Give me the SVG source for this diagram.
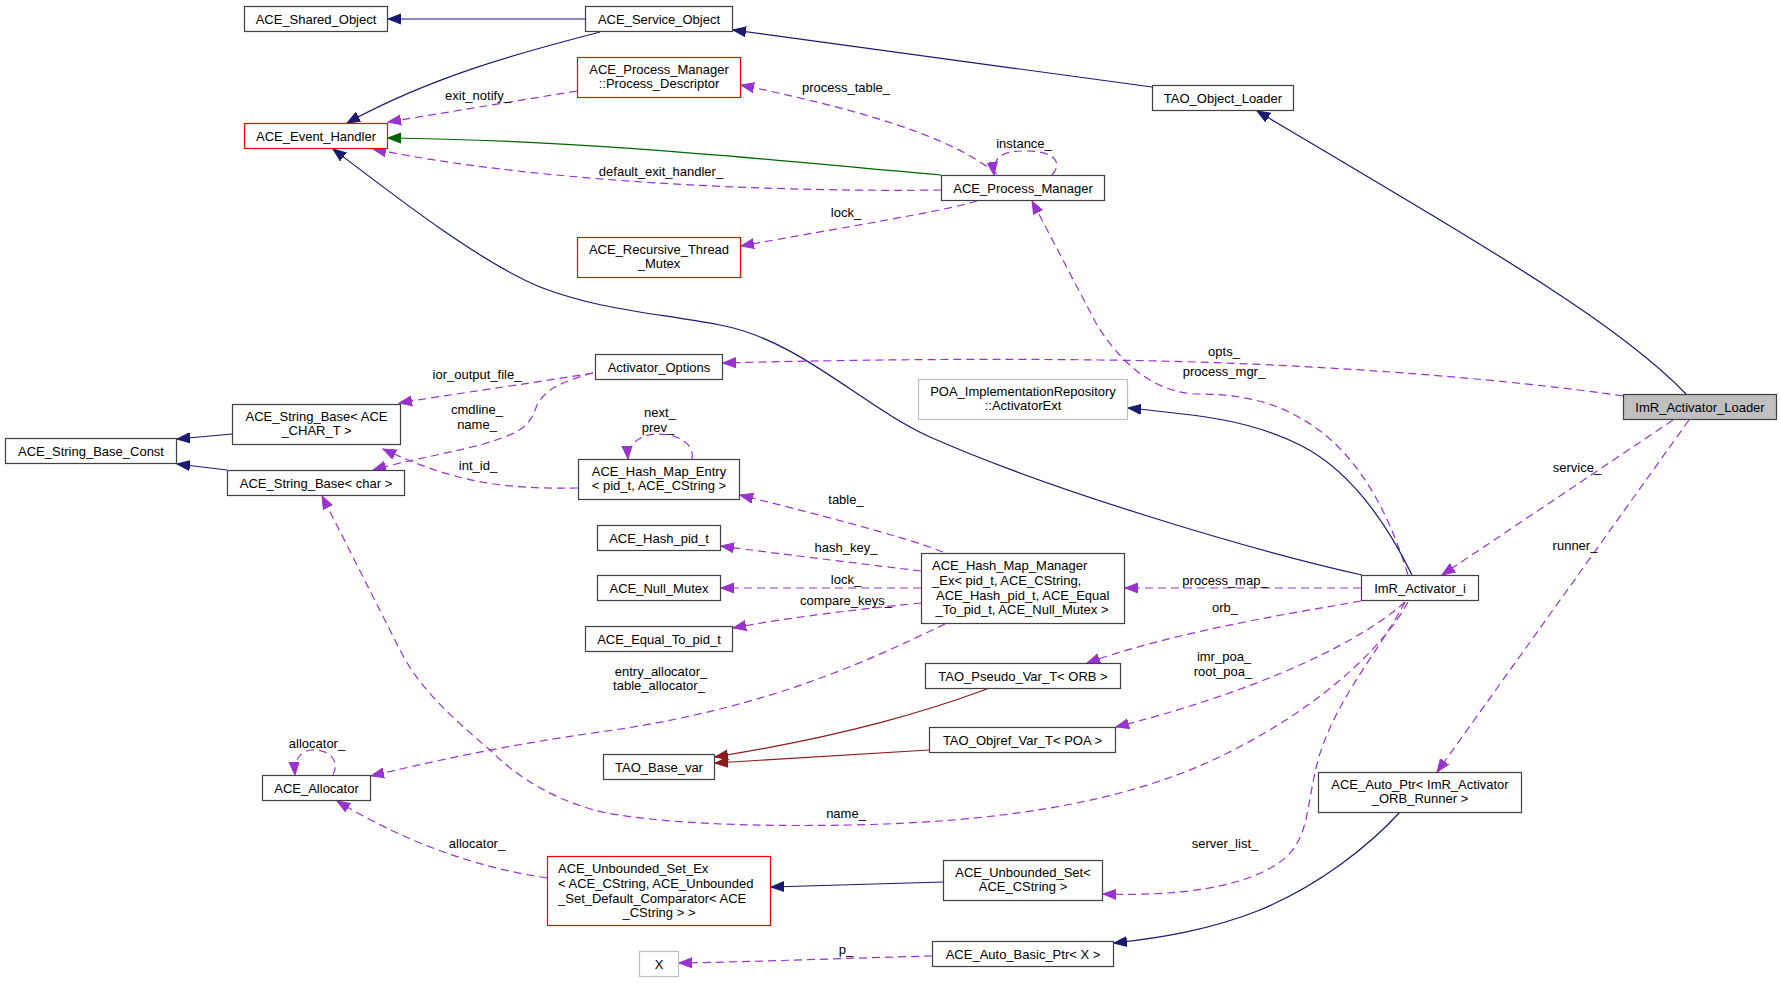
<svg xmlns="http://www.w3.org/2000/svg" width="1781" height="983" viewBox="0 0 1781 983">
<style>
text{font-family:"Liberation Sans",Arial,sans-serif;font-size:13px;fill:#000}
.n rect{fill:#fff;stroke:#404040;stroke-width:1.2}
.n.r rect{stroke:#ff0000}
.n.g rect{stroke:#bfbfbf}
.n.f rect{fill:#bfbfbf}
.c{text-anchor:middle}
.e path{fill:none;stroke-width:1.2}
.nv{stroke:#191970;marker-end:url(#an)}
.pu{stroke:#9a32cd;stroke-dasharray:8,5;marker-end:url(#ap)}
.gr{stroke:#006400;marker-end:url(#ag)}
.rd{stroke:#8b1a1a;marker-end:url(#ar)}
.lb{text-anchor:middle}
</style>
<defs>
<marker id="an" markerUnits="userSpaceOnUse" markerWidth="14" markerHeight="12" viewBox="0 0 14 12" refX="13" refY="6" orient="auto"><path d="M0,1 L13,6 L0,11 z" fill="#191970" stroke="#191970"/></marker>
<marker id="ap" markerUnits="userSpaceOnUse" markerWidth="14" markerHeight="12" viewBox="0 0 14 12" refX="13" refY="6" orient="auto"><path d="M0,1 L13,6 L0,11 z" fill="#9a32cd" stroke="#9a32cd"/></marker>
<marker id="ag" markerUnits="userSpaceOnUse" markerWidth="14" markerHeight="12" viewBox="0 0 14 12" refX="13" refY="6" orient="auto"><path d="M0,1 L13,6 L0,11 z" fill="#006400" stroke="#006400"/></marker>
<marker id="ar" markerUnits="userSpaceOnUse" markerWidth="14" markerHeight="12" viewBox="0 0 14 12" refX="13" refY="6" orient="auto"><path d="M0,1 L13,6 L0,11 z" fill="#8b1a1a" stroke="#8b1a1a"/></marker>
</defs>
<rect width="1781" height="983" fill="#fff"/>
<g id="edges" class="e">
<path class="nv" d="M585,19 L388,19"/>
<path class="nv" d="M600,32 C540,48 440,72 347,123"/>
<path class="nv" d="M1152,87 L733,30"/>
<path class="nv" d="M1686,394 C1620,325 1500,255 1257,111"/>
<path class="nv" d="M232,434 L177,439"/>
<path class="nv" d="M227,470 L177,464"/>
<path class="gr" d="M941,175 C820,165 600,140 388,138"/>
<path class="nv" d="M1362,575 C1250,550 1050,490 930,437 C860,405 800,340 720,325 C650,312 600,310 540,287 C480,262 400,200 333,149"/>
<path class="pu" d="M577,91 L388,122"/>
<path class="pu" d="M941,190 C800,192 550,185 373,149"/>
<path class="pu" d="M997,174 C960,145 900,118 741,85"/>
<path class="pu" d="M1052,175 C1065,160 1050,150 1022,151 C1000,151 992,160 994,175"/>
<path class="pu" d="M977,201 C950,210 840,228 741,246"/>
<path class="pu" d="M1408,575 C1385,500 1350,445 1300,418 C1270,400 1235,394 1197,394 C1160,393 1125,370 1097,325 L1032,201"/>
<path class="pu" d="M1623,396 C1500,378 1300,362 1100,360 C950,358 800,361 723,363"/>
<path class="pu" d="M593,373 C540,382 480,390 399,403"/>
<path class="pu" d="M593,373 C560,382 545,390 537,405 C530,425 525,432 480,445 C440,455 400,462 373,470"/>
<path class="pu" d="M578,488 C510,489 460,485 383,449"/>
<path class="pu" d="M692,459 C695,445 680,434 657,434 C640,434 627,445 628,459"/>
<path class="pu" d="M943,552 C900,535 800,510 740,495"/>
<path class="pu" d="M921,571 C880,566 780,554 721,546"/>
<path class="pu" d="M921,588 L721,588"/>
<path class="pu" d="M921,603 C870,608 790,617 733,628"/>
<path class="pu" d="M945,624 C860,665 760,710 600,732 C500,746 430,762 371,776"/>
<path class="nv" d="M1412,575 C1385,520 1350,470 1300,445 C1250,420 1200,415 1128,408"/>
<path class="pu" d="M1361,588 L1125,588"/>
<path class="pu" d="M1361,601 C1300,612 1180,630 1087,663"/>
<path class="pu" d="M1405,602 C1380,625 1300,680 1116,727"/>
<path class="pu" d="M1408,602 C1385,645 1320,710 1213,760 C1120,803 1000,822 850,825 C750,827 660,823 607,813 C560,803 520,780 490,750 C455,720 420,690 400,650 L322,496"/>
<path class="pu" d="M1405,602 C1380,650 1335,700 1318,760 C1305,810 1310,840 1280,862 C1240,890 1170,896 1103,894"/>
<path class="pu" d="M1673,420 L1442,575"/>
<path class="pu" d="M1689,420 L1437,772"/>
<path class="nv" d="M943,882 L771,887"/>
<path class="nv" d="M1400,812 C1370,845 1320,885 1260,910 C1210,930 1160,938 1114,943"/>
<path class="pu" d="M932,956 C850,958 750,962 679,963"/>
<path class="pu" d="M547,878 C480,868 410,845 337,801"/>
<path class="pu" d="M333,775 C340,760 330,750 313,750 C300,750 294,760 295,775"/>
<path class="rd" d="M987,689 C930,710 850,735 715,757"/>
<path class="rd" d="M929,750 C850,755 780,759 715,763"/>
</g>
<g id="labels">
<text class="lb" x="478" y="99.5">exit_notify_</text>
<text class="lb" x="846" y="91.5">process_table_</text>
<text class="lb" x="1024" y="147.5">instance_</text>
<text class="lb" x="661" y="175.5">default_exit_handler_</text>
<text class="lb" x="846" y="216.5">lock_</text>
<text class="lb" x="1224" y="355.5">opts_</text>
<text class="lb" x="1224" y="375.5">process_mgr_</text>
<text class="lb" x="477" y="378.5">ior_output_file_</text>
<text class="lb" x="477" y="413.5">cmdline_</text>
<text class="lb" x="477" y="428.5">name_</text>
<text class="lb" x="478" y="469.5">int_id_</text>
<text class="lb" x="660" y="416.5">next_</text>
<text class="lb" x="658" y="431.5">prev_</text>
<text class="lb" x="846" y="503.5">table_</text>
<text class="lb" x="846" y="551.5">hash_key_</text>
<text class="lb" x="846" y="583.5">lock_</text>
<text class="lb" x="846" y="604.5">compare_keys_</text>
<text class="lb" x="1225" y="584.5">process_map_</text>
<text class="lb" x="1225" y="611.5">orb_</text>
<text class="lb" x="1224" y="660.5">imr_poa_</text>
<text class="lb" x="1223" y="675.5">root_poa_</text>
<text class="lb" x="1577" y="471.5">service_</text>
<text class="lb" x="1575" y="549.5">runner_</text>
<text class="lb" x="661" y="675.5">entry_allocator_</text>
<text class="lb" x="659" y="689.5">table_allocator_</text>
<text class="lb" x="317" y="747.5">allocator_</text>
<text class="lb" x="846" y="817.5">name_</text>
<text class="lb" x="477" y="847.5">allocator_</text>
<text class="lb" x="1225" y="847.5">server_list_</text>
<text class="lb" x="846" y="953.5">p_</text>
</g>
<g id="n_shared" class="n"><rect x="244.5" y="6.5" width="143" height="25"/><text class="c" x="316" y="23.5">ACE_Shared_Object</text></g>
<g id="n_service" class="n"><rect x="585.5" y="6.5" width="147" height="25"/><text class="c" x="659" y="23.5">ACE_Service_Object</text></g>
<g id="n_taoloader" class="n"><rect x="1152.5" y="85.5" width="141" height="25"/><text class="c" x="1223" y="102.5">TAO_Object_Loader</text></g>
<g id="n_evh" class="n r"><rect x="244.5" y="123.5" width="143" height="25"/><text class="c" x="316" y="140.5">ACE_Event_Handler</text></g>
<g id="n_pd" class="n r"><rect x="577.5" y="57.5" width="163" height="40"/><text class="c" x="659" y="73.5">ACE_Process_Manager</text><text class="c" x="659" y="88">::Process_Descriptor</text></g>
<g id="n_pm" class="n"><rect x="941.5" y="175.5" width="163" height="25"/><text class="c" x="1023" y="192.5">ACE_Process_Manager</text></g>
<g id="n_rtm" class="n r"><rect x="577.5" y="237.5" width="163" height="40"/><text class="c" x="659" y="253.5">ACE_Recursive_Thread</text><text class="c" x="659" y="268">_Mutex</text></g>
<g id="n_ao" class="n"><rect x="595.5" y="354.5" width="127" height="25"/><text class="c" x="659" y="371.5">Activator_Options</text></g>
<g id="n_poa" class="n g"><rect x="918.5" y="379.5" width="209" height="40"/><text class="c" x="1023" y="395.5">POA_ImplementationRepository</text><text class="c" x="1023" y="410">::ActivatorExt</text></g>
<g id="n_loader" class="n f"><rect x="1623.5" y="394.5" width="153" height="25"/><text class="c" x="1700" y="411.5">ImR_Activator_Loader</text></g>
<g id="n_sbc" class="n"><rect x="5.5" y="438.5" width="171" height="25"/><text class="c" x="91" y="455.5">ACE_String_Base_Const</text></g>
<g id="n_sbt" class="n"><rect x="232.5" y="404.5" width="168" height="40"/><text class="c" x="316.5" y="420.5">ACE_String_Base&lt; ACE</text><text class="c" x="316.5" y="435">_CHAR_T &gt;</text></g>
<g id="n_sbchar" class="n"><rect x="227.5" y="470.5" width="177" height="25"/><text class="c" x="316" y="487.5">ACE_String_Base&lt; char &gt;</text></g>
<g id="n_hme" class="n"><rect x="578.5" y="459.5" width="161" height="40"/><text class="c" x="659" y="475.5">ACE_Hash_Map_Entry</text><text class="c" x="659" y="490">&lt; pid_t, ACE_CString &gt;</text></g>
<g id="n_hashpid" class="n"><rect x="597.5" y="525.5" width="123" height="25"/><text class="c" x="659" y="542.5">ACE_Hash_pid_t</text></g>
<g id="n_nullmutex" class="n"><rect x="597.5" y="575.5" width="123" height="25"/><text class="c" x="659" y="592.5">ACE_Null_Mutex</text></g>
<g id="n_equalto" class="n"><rect x="585.5" y="626.5" width="147" height="25"/><text class="c" x="659" y="643.5">ACE_Equal_To_pid_t</text></g>
<g id="n_hmm" class="n"><rect x="921.5" y="553.5" width="203" height="70"/><text x="932" y="569.5">ACE_Hash_Map_Manager</text><text x="932" y="584.5">_Ex&lt; pid_t, ACE_CString,</text><text x="936" y="599.5">ACE_Hash_pid_t, ACE_Equal</text><text class="c" x="1022" y="614">_To_pid_t, ACE_Null_Mutex &gt;</text></g>
<g id="n_actimpl" class="n"><rect x="1361.5" y="575.5" width="117" height="25"/><text class="c" x="1420" y="592.5">ImR_Activator_i</text></g>
<g id="n_pseudo" class="n"><rect x="925.5" y="663.5" width="195" height="25"/><text class="c" x="1023" y="680.5">TAO_Pseudo_Var_T&lt; ORB &gt;</text></g>
<g id="n_objref" class="n"><rect x="929.5" y="727.5" width="186" height="25"/><text class="c" x="1022.5" y="744.5">TAO_Objref_Var_T&lt; POA &gt;</text></g>
<g id="n_basevar" class="n"><rect x="603.5" y="754.5" width="111" height="25"/><text class="c" x="659" y="771.5">TAO_Base_var</text></g>
<g id="n_alloc" class="n"><rect x="262.5" y="775.5" width="108" height="25"/><text class="c" x="316.5" y="792.5">ACE_Allocator</text></g>
<g id="n_autoptr" class="n"><rect x="1318.5" y="772.5" width="203" height="40"/><text class="c" x="1420" y="788.5">ACE_Auto_Ptr&lt; ImR_Activator</text><text class="c" x="1420" y="803">_ORB_Runner &gt;</text></g>
<g id="n_use" class="n r"><rect x="547.5" y="856.5" width="223" height="69"/><text x="558" y="872.5">ACE_Unbounded_Set_Ex</text><text x="558" y="887.5">&lt; ACE_CString, ACE_Unbounded</text><text x="558" y="902.5">_Set_Default_Comparator&lt; ACE</text><text class="c" x="659" y="917">_CString &gt; &gt;</text></g>
<g id="n_us" class="n"><rect x="943.5" y="860.5" width="159" height="40"/><text class="c" x="1023" y="876.5">ACE_Unbounded_Set&lt;</text><text class="c" x="1023" y="891">ACE_CString &gt;</text></g>
<g id="n_abp" class="n"><rect x="932.5" y="941.5" width="181" height="25"/><text class="c" x="1023" y="958.5">ACE_Auto_Basic_Ptr&lt; X &gt;</text></g>
<g id="n_x" class="n g"><rect x="639.5" y="951.5" width="39" height="25"/><text class="c" x="659" y="968.5">X</text></g>
</svg>
